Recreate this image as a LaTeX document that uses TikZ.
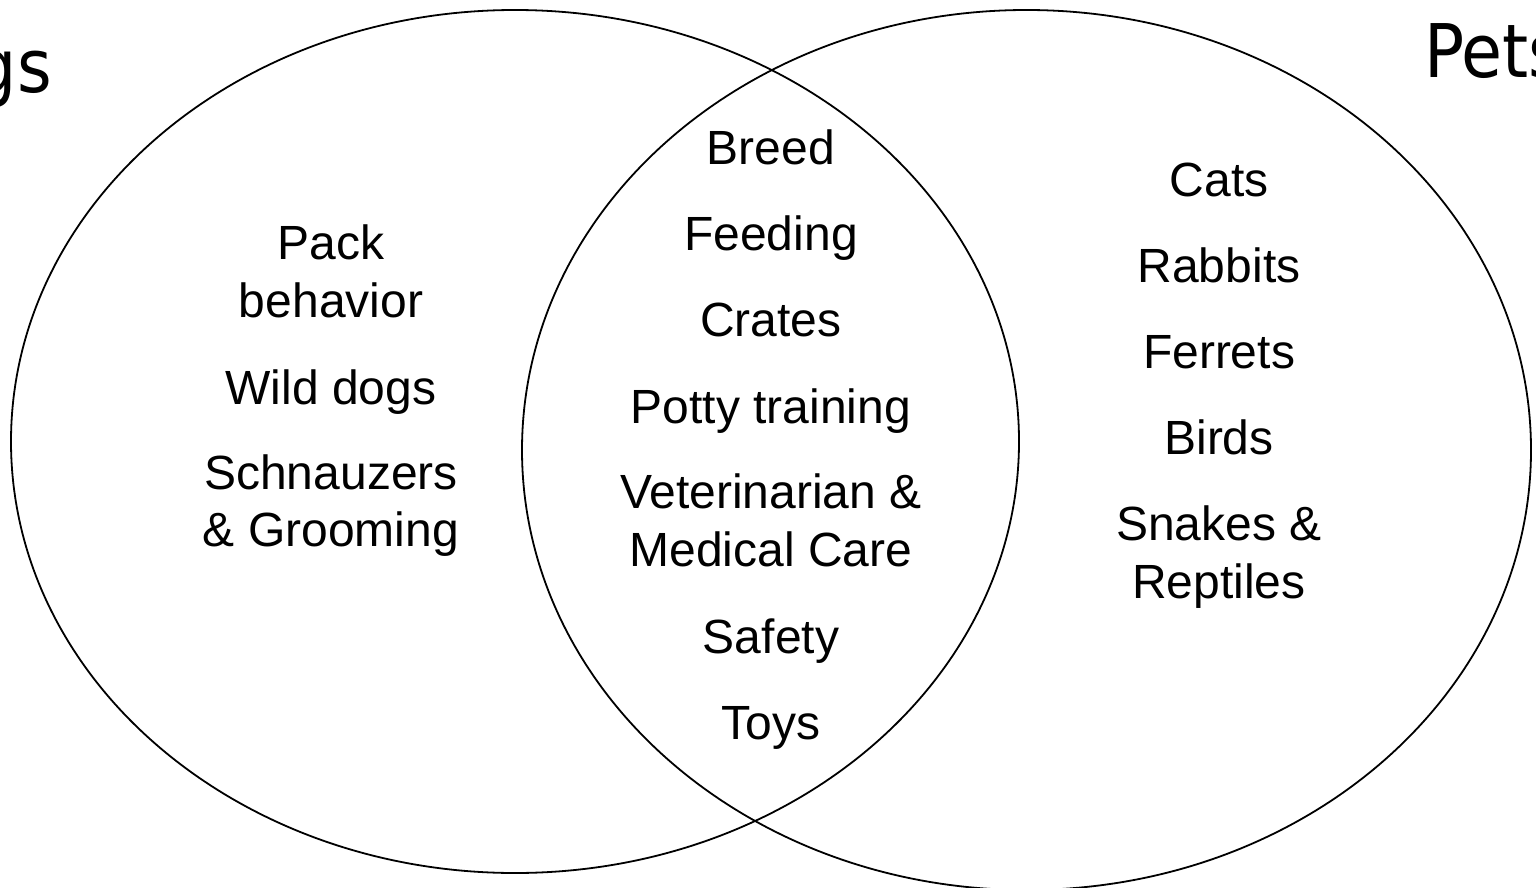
\documentclass[tikz,border=0pt]{standalone}
\usepackage{fontspec}
\setmainfont{Liberation Sans}
\newfontfamily\titlefont{DejaVu Sans Condensed}
\begin{document}
\begin{tikzpicture}[x=1pt,y=-1pt,
  venn/.style={draw=black,line width=1.8pt},
  item/.style={align=center,inner sep=0pt,font=\fontsize{48}{57.5}\selectfont},
  one/.style={item,anchor=base},
  ttl/.style={inner sep=0pt,font=\titlefont\fontsize{74}{80}\selectfont}]
\useasboundingbox (0,0) rectangle (1536,888);
\draw[venn] (515,441.5) ellipse [x radius=504, y radius=431.5];
\draw[venn] (1026.5,450) ellipse [x radius=504.5, y radius=440];
\node[ttl,anchor=base east] (dogs) at (52,93) {Dogs};
\node[ttl,anchor=base west] (pets) at (1424,78) {Pets};
% left
\node[item] (pack) at (331,271.5) {Pack\\behavior};
\node[one] (wild) at (331,404.5) {Wild dogs};
\node[item] (schn) at (331,505.5) {Schnauzers\\\& Grooming};
% middle
\node[one] (breed) at (771,164.5) {Breed};
\node[one] (feed) at (771,250.5) {Feeding};
\node[one] (crates) at (771,336.5) {Crates};
\node[one] (potty) at (771,423.5) {Potty training};
\node[item] (vet) at (771,520.5) {Veterinarian \&\\Medical Care};
\node[one] (safety) at (771,653.5) {Safety};
\node[one] (toys) at (771,739.5) {Toys};
% right
\node[one] (cats) at (1219,196.5) {Cats};
\node[one] (rabbits) at (1219,282.5) {Rabbits};
\node[one] (ferrets) at (1219,368.5) {Ferrets};
\node[one] (birds) at (1219,454.5) {Birds};
\node[item] (snakes) at (1219,557) {Snakes \&\\Reptiles};
\end{tikzpicture}
\end{document}
